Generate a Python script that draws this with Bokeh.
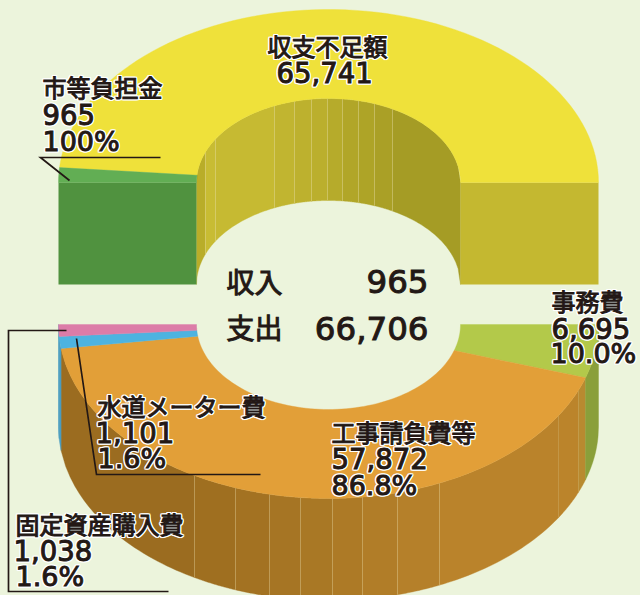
import numpy as np
from bokeh.core.properties import value
from bokeh.embed import file_html
from bokeh.models import GlobalInlineStyleSheet
from bokeh.plotting import figure
from bokeh.resources import INLINE

# ---- data ----
income_names = ["収支不足額", "市等負担金"]
income_values = [65741, 965]
income_pct = ["", "100%"]
spend_names = ["事務費", "工事請負費等", "水道メーター費", "固定資産購入費"]
spend_values = [6695, 57872, 1101, 1038]
spend_pct = ["10.0%", "86.8%", "1.6%", "1.6%"]
total_income = 965
total_spend = 66706

# ---- styles ----
BG = "#ecf4dc"
INK = "#231815"
income_top = ["#efe13a", "#62ae54"]
income_front = ["#c4b830", "#50923f"]
spend_top = ["#b3c94a", "#e29f38", "#4db3e0", "#dc7ca8"]
spend_wall = ["#8a9f3a", "#ba832b", "#4a9cc0", "#b5648a"]

CX, RX, RIX = 328, 270, 132
UP_Y, UP_RY, UP_RIY = 182, 173, 84
LO_Y, LO_RY, LO_RIY = 324, 174, 85
DEPTH = 102

inner_edges = [196, 205, 215, 274, 294, 311, 327, 342, 358, 374, 392, 460]
inner_cols = ["#b9ad29", "#c8bc33", "#c6ba32", "#c1b530", "#bdb12e", "#bbaf2d",
              "#b6ab2b", "#b1a628", "#aea427", "#aaa026", "#a59c25"]
outer_edges = [194, 235, 269, 300, 332, 362, 397, 439, 558, 578]
outer_cols = ["#9b6c20", "#9f6f20", "#a37222", "#a67524", "#a97825", "#ad7a26",
              "#b17d28", "#b5802a", "#ba832b", "#bb842b", "#b88a30"]


def sweeps(vals, min_deg):
    raw = [max(v / sum(vals) * 180, min_deg) for v in vals]
    k = 180 / sum(raw)
    return np.cumsum([0] + [r * k for r in raw])


def sector(a0, a1, cy, ry, riy, sign):
    t = np.radians(np.linspace(a0, a1, 80))
    xs = np.r_[CX + RX * np.cos(t), CX + RIX * np.cos(t[::-1])]
    ys = np.r_[cy + sign * ry * np.sin(t), cy + sign * riy * np.sin(t[::-1])]
    return xs.tolist(), ys.tolist()


def wall(x0, x1, rx, cy, ry, sign):
    x = np.linspace(x0, x1, 30)
    u = np.clip((x - CX) / rx, -1, 1)
    top = cy + sign * ry * np.sqrt(1 - u ** 2)
    return np.r_[x, x[::-1]].tolist(), np.r_[top, top[::-1] + DEPTH].tolist()


p = figure(width=640, height=595, x_range=(0, 640), y_range=(595, 0),
           output_backend="svg", toolbar_location=None, min_border=0,
           background_fill_color=BG, border_fill_color=BG, outline_line_color=None)
p.axis.visible = False
p.grid.visible = False
p.stylesheets = [GlobalInlineStyleSheet(css=f"html,body{{margin:0;background:{BG};overflow:hidden}}")]


def fill(pieces, cols):
    p.patches([a for a, _ in pieces], [b for _, b in pieces], fill_color=cols,
              line_color=cols, line_width=0.4)


def seams(xs, rx, cy, ry, sign, alpha):
    xl, yl = [], []
    for x in xs:
        u = (x - CX) / rx
        top = cy + sign * ry * np.sqrt(1 - u ** 2)
        xl.append([x, x])
        yl.append([top, top + DEPTH])
    p.multi_line(xl, yl, line_color="#eadfa8", line_alpha=alpha, line_width=1)


# ---- upper half: income ----
ang = sweeps(income_values, 5)
fill([wall(inner_edges[i], inner_edges[i + 1], RIX, UP_Y, UP_RIY, -1)
      for i in range(len(inner_cols))], inner_cols)
seams(inner_edges[1:-1], RIX, UP_Y, UP_RIY, -1, 0.35)
p.quad(left=[CX + RIX, CX - RX], right=[CX + RX, CX - RIX], top=[UP_Y] * 2,
       bottom=[UP_Y + DEPTH] * 2, fill_color=income_front, line_color=None)
fill([sector(ang[i], ang[i + 1], UP_Y, UP_RY, UP_RIY, -1) for i in range(2)], income_top)

# ---- lower half: spending ----
ang2 = sweeps(spend_values, 4)
bx = CX + RX * np.cos(np.radians(ang2))
orange_x = [bx[2]] + outer_edges + [bx[1]]
fill([wall(orange_x[i], orange_x[i + 1], RX, LO_Y, LO_RY, 1)
      for i in range(len(outer_cols))], outer_cols)
seams(outer_edges[:8], RX, LO_Y, LO_RY, 1, 0.3)
seams(outer_edges[8:], RX, LO_Y, LO_RY, 1, 0.12)
fill([wall(bx[1], bx[0], RX, LO_Y, LO_RY, 1),
      wall(bx[3], bx[2], RX, LO_Y, LO_RY, 1),
      wall(bx[4], bx[3], RX, LO_Y, LO_RY, 1)],
     [spend_wall[0], spend_wall[2], spend_wall[2]])
fill([sector(ang2[i], ang2[i + 1], LO_Y, LO_RY, LO_RIY, 1) for i in range(4)], spend_top)

# ---- leader lines ----
p.multi_line([[160, 40, 69], [66, 8, 8, 168], [76, 96, 260]],
             [[157, 157, 180], [330, 330, 591, 591], [338, 474, 474]],
             line_color=INK, line_width=1.7, line_join="miter")

HALO = [(-1.3, 0), (1.3, 0), (0, -1.3), (0, 1.3), (-1, -1), (1, -1), (-1, 1), (1, 1)]


# ---- labels ----
def labels(xs, ys, texts, font, size, halo=True, align="left"):
    px = float(size[:-2])
    base = -0.37 * px
    common = dict(x=xs, y=ys, text=texts, text_font=value(font), text_font_size=size,
                  text_align=align, text_baseline="alphabetic")
    if halo:
        for dx, dy in HALO:
            p.text(text_color="white", text_outline_color="white",
                   x_offset=dx, y_offset=base + dy, **common)
    p.text(text_color=INK, text_outline_color=INK, y_offset=base, **common)


JP = "Noto Sans CJK JP"
NUM = "DejaVu Sans"
names = income_names + spend_names
name_x = [267, 42, 551, 331, 97, 15]
name_y = [54, 95, 309, 440, 414, 532]
labels(name_x, name_y, names, JP, "24px")

num_x = [276, 42, 551, 331, 95, 13]
num_y = [82, 124, 338, 468, 442, 560]
nums = [f"{v:,}" for v in income_values + spend_values]
labels(num_x, num_y, nums, NUM, "27.5px")

pct_all = income_pct[1:] + spend_pct
labels([42, 550, 331, 97, 15], [151, 363, 495, 468, 586], pct_all, NUM, "27px")

labels([226, 226], [291, 337], ["収入", "支出"], JP, "28px", halo=False)
labels([428, 428], [293, 340], [f"{total_income:,}", f"{total_spend:,}"], NUM, "32.5px",
       halo=False, align="right")

open("out.html", "w").write(file_html(p, INLINE))
